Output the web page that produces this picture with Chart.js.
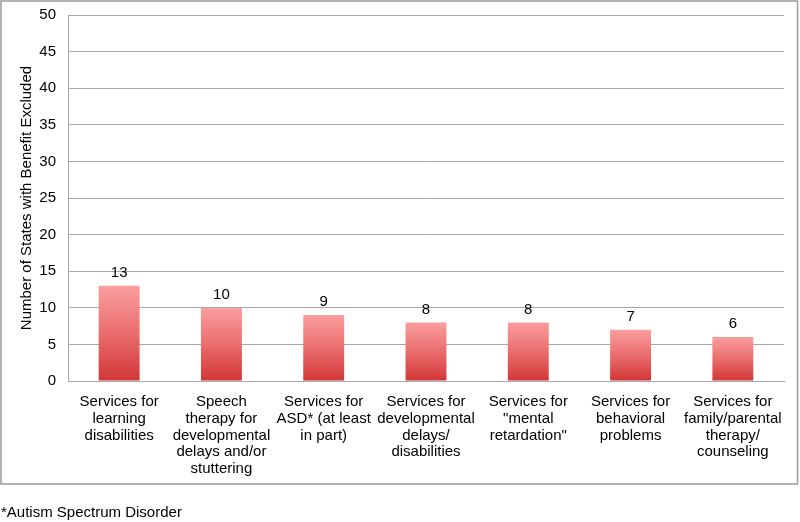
<!DOCTYPE html>
<html>
<head>
<meta charset="utf-8">
<script src="https://cdn.jsdelivr.net/npm/chart.js@4"></script>
<style>
  html, body { margin: 0; padding: 0; background: #fff; }
  #wrap { position: relative; width: 800px; height: 522px; }
</style>
</head>
<body>
<div id="wrap"><canvas id="chart" width="800" height="522"></canvas></div>
<script>
// categories (x axis, each one split in lines like the picture)
var categories = [
  ["Services for", "learning", "disabilities"],
  ["Speech", "therapy for", "developmental", "delays and/or", "stuttering"],
  ["Services for", "ASD* (at least", "in part)"],
  ["Services for", "developmental", "delays/", "disabilities"],
  ["Services for", "\"mental", "retardation\""],
  ["Services for", "behavioral", "problems"],
  ["Services for", "family/parental", "therapy/", "counseling"]
];
// number of states with the benefit excluded
var statesExcluded = [13, 10, 9, 8, 8, 7, 6];
var yTitle = "Number of States with Benefit Excluded";
var footnote = "*Autism Spectrum Disorder";

var FONT = "'Liberation Sans', Arial, Helvetica, sans-serif";
var GRID = "#a6a6a6";

// gradient per bar: light pink on top, red at the bottom
function barGradient(ctx) {
  var chart = ctx.chart;
  var y = chart.scales && chart.scales.y;
  if (!chart.chartArea || !y || ctx.type !== "data") return "#e86a6a";
  var top = y.getPixelForValue(ctx.raw);
  var base = y.getPixelForValue(0);
  var g = chart.ctx.createLinearGradient(0, top, 0, base);
  g.addColorStop(0, "#fa9e9e");
  g.addColorStop(0.5, "#ea6d6d");
  g.addColorStop(1, "#d23636");
  return g;
}

// numbers on top of the bars + outer frame + footnote
var decorations = {
  id: "decorations",
  afterDatasetsDraw: function (chart) {
    var c = chart.ctx;
    var meta = chart.getDatasetMeta(0);
    c.save();
    c.font = "15px " + FONT;
    c.fillStyle = "#000";
    c.textAlign = "center";
    c.textBaseline = "middle";
    meta.data.forEach(function (bar, i) {
      c.fillText(String(statesExcluded[i]), bar.x, bar.y - 13);
    });
    c.restore();
  },
  afterDraw: function (chart) {
    var c = chart.ctx;
    c.save();
    c.strokeStyle = "#9a9a9a";
    c.lineWidth = 1.5;
    c.strokeRect(1, 1, 796.5, 483);
    c.font = "15px " + FONT;
    c.fillStyle = "#000";
    c.textAlign = "left";
    c.textBaseline = "middle";
    c.fillText(footnote, 1, 513);
    c.restore();
  }
};

new Chart(document.getElementById("chart"), {
  type: "bar",
  data: {
    labels: categories,
    datasets: [{
      data: statesExcluded,
      backgroundColor: barGradient,
      borderWidth: 0,
      barPercentage: 0.4,
      categoryPercentage: 1
    }]
  },
  options: {
    responsive: false,
    animation: false,
    layout: { padding: { left: 0, top: 15, right: 16, bottom: 0 } },
    plugins: {
      legend: { display: false },
      tooltip: { enabled: false }
    },
    scales: {
      x: {
        grid: { display: false, drawTicks: false },
        border: { display: true, color: GRID, width: 1 },
        ticks: {
          autoSkip: false,
          maxRotation: 0,
          minRotation: 0,
          padding: 13,
          color: "#000",
          font: { family: FONT, size: 15, lineHeight: 1.11 }
        },
        afterFit: function (scale) { scale.height = 141; }
      },
      y: {
        min: 0,
        max: 50,
        ticks: {
          stepSize: 5,
          padding: 12,
          color: "#000",
          font: { family: FONT, size: 15 }
        },
        grid: { color: GRID, lineWidth: 1, drawTicks: false },
        border: { display: true, color: GRID, width: 1 },
        title: {
          display: true,
          text: yTitle,
          color: "#000",
          padding: { top: 18, bottom: 0 },
          font: { family: FONT, size: 15 }
        },
        afterFit: function (scale) {
          scale.width = 68;
          // the top label may stick out, like in the picture
          scale.paddingTop = 0;
          scale.paddingBottom = 0;
        }
      }
    }
  },
  plugins: [decorations]
});
</script>
</body>
</html>
